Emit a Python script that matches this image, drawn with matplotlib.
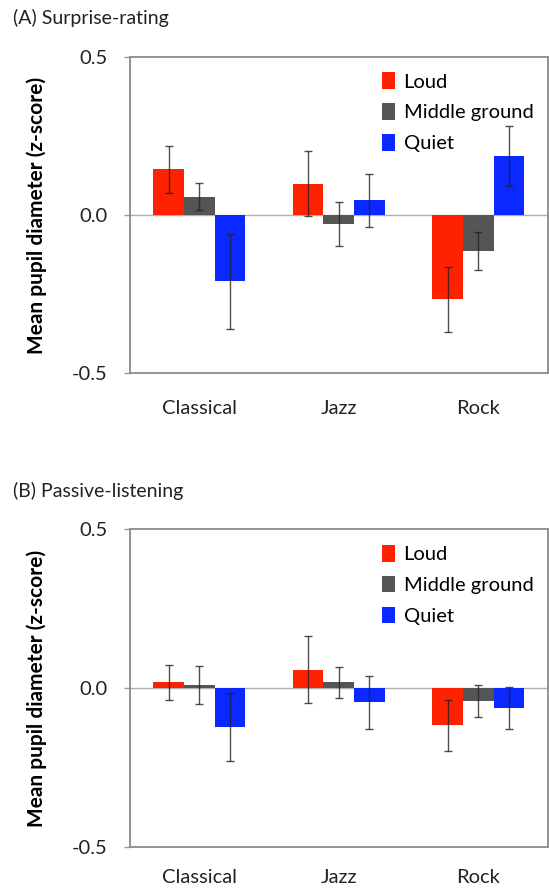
import matplotlib.pyplot as plt
import numpy as np

plt.rcParams['font.family'] = ['Lato', 'DejaVu Sans']

genres = ['Classical', 'Jazz', 'Rock']
conditions = ['Loud', 'Middle ground', 'Quiet']
colors = ['#ff2200', '#555555', '#0a28ff']

# (A) surprise-rating: means and standard errors per condition
surprise_mean = {
    'Loud': [0.145, 0.099, -0.266],
    'Middle ground': [0.058, -0.029, -0.113],
    'Quiet': [-0.210, 0.046, 0.187],
}
surprise_err = {
    'Loud': [0.074, 0.102, 0.103],
    'Middle ground': [0.043, 0.070, 0.060],
    'Quiet': [0.150, 0.083, 0.095],
}

# (B) passive-listening
passive_mean = {
    'Loud': [0.018, 0.058, -0.118],
    'Middle ground': [0.009, 0.018, -0.041],
    'Quiet': [-0.122, -0.045, -0.064],
}
passive_err = {
    'Loud': [0.056, 0.105, 0.080],
    'Middle ground': [0.060, 0.048, 0.050],
    'Quiet': [0.107, 0.083, 0.066],
}

W, H = 549, 890
fig = plt.figure(figsize=(W / 100, H / 100), dpi=100)


def panel(top, bottom, title, means, errs, xpad):
    ax = fig.add_axes([129.5 / W, 1 - bottom / H, (548 - 129.5) / W, (bottom - top) / H])
    x = np.arange(len(genres))
    width = 0.22
    ax.axhline(0, color='#b0b0b0', lw=1, zorder=1)
    for i, cond in enumerate(conditions):
        ax.bar(x + (i - 1) * width, means[cond], width, color=colors[i],
               label=cond, zorder=2)
        ax.errorbar(x + (i - 1) * width, means[cond], yerr=errs[cond], fmt='none',
                    ecolor='#222222', elinewidth=1, capsize=2.6, capthick=1,
                    alpha=0.8, zorder=3)
    ax.set_xlim(-0.5, 2.5)
    ax.set_ylim(-0.5, 0.5)
    ax.set_yticks([-0.5, 0.0, 0.5])
    ax.set_yticklabels(['-0.5', '0.0', '0.5'])
    ax.set_xticks(x)
    ax.set_xticklabels(genres)
    ax.tick_params(axis='y', length=4.5, width=1, color='#999999', pad=11,
                   labelsize=14.5, labelcolor='#222222')
    ax.tick_params(axis='x', length=0, pad=xpad, labelsize=14.5, labelcolor='#222222')
    for s in ax.spines.values():
        s.set_color('#8a8a8a')
        s.set_linewidth(1.3)
    ax.set_ylabel('Mean pupil diameter (z-score)', fontsize=15,
                  fontweight='bold')
    ax.yaxis.set_label_coords(-(129.5 - 47) / (548 - 129.5), 0.5)
    ax.legend(loc='upper left', bbox_to_anchor=(0.585, 0.976), frameon=False,
              fontsize=14.5, handlelength=0.65, handleheight=0.9,
              handletextpad=0.4, labelspacing=0.62, borderaxespad=0)
    fig.text(13 / W, 1 - (top - 38.5) / H, title, fontsize=14, va='center',
             ha='left', color='#222222')
    return ax


panel(56.7, 373.3, '(A) Surprise-rating', surprise_mean, surprise_err, 19)
panel(529.3, 846.7, '(B) Passive-listening', passive_mean, passive_err, 16)

fig.savefig('out.png', dpi=100)
